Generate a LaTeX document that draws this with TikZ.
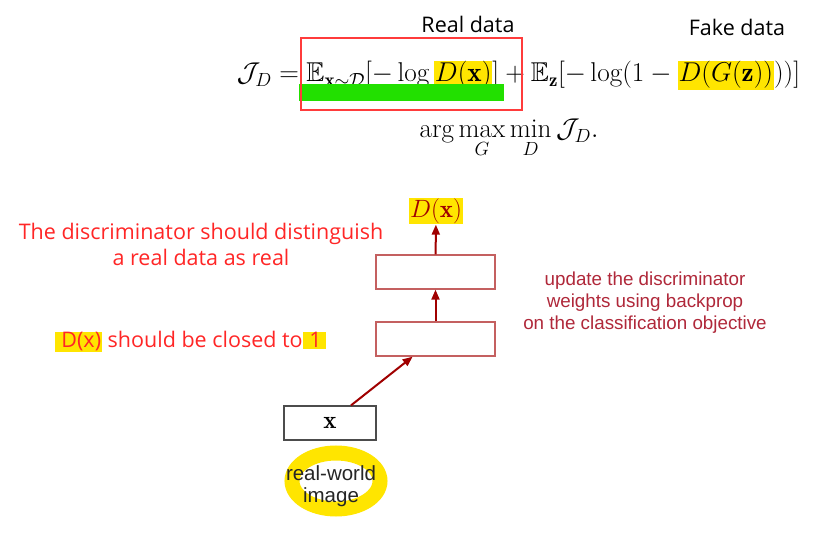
\RequirePackage{fix-cm}
\documentclass[tikz,border=0pt]{standalone}
\usepackage{amsmath, amssymb}
\usepackage{fontspec}
\newfontfamily\notefont{Open Sans}
\newfontfamily\slidefont{Liberation Sans}
\definecolor{hlYellow}{HTML}{FFE500}
\definecolor{hlGreen}{HTML}{22E000}
\definecolor{boxRed}{HTML}{FF3B3B}
\definecolor{noteRed}{HTML}{FF2626}
\definecolor{arrowRed}{HTML}{A00000}
\definecolor{layerRed}{HTML}{C46060}
\definecolor{slideRed}{HTML}{B0283A}
\usetikzlibrary{arrows.meta, calc}
\newcommand{\hl}[1]{{\setlength{\fboxsep}{1pt}\colorbox{hlYellow}{#1}}}

\begin{document}
\begin{tikzpicture}[x=1pt, y=-1pt,
    eqn/.style={inner sep=0pt, font=\fontsize{27.2}{33}\selectfont},
    tag/.style={inner sep=0pt, font=\notefont\fontsize{21.5}{26}\selectfont},
    note/.style={tag, text=noteRed, align=center},
    slide/.style={inner sep=0pt, text=slideRed, align=center,
      font=\slidefont\fontsize{18.8}{22}\selectfont},
    layer/.style={draw=layerRed, line width=1.3pt, minimum width=119pt, minimum height=34pt},
    inbox/.style={draw=black!70, line width=1.2pt, minimum width=92pt, minimum height=34pt,
      font=\fontsize{25}{30}\selectfont},
    flow/.style={arrowRed, line width=2pt, -{Triangle[length=10pt, width=8pt]}},
    ring/.style={hlYellow, line width=15pt}]
  \useasboundingbox[fill=white] (0,0) rectangle (822,537);

  % Objective of the discriminator
  \node[eqn, anchor=base] (loss) at (518.5,82)
    {$\mathcal{J}_D = \mathbb{E}_{\mathbf{x}\sim\mathcal{D}}[-\log \hl{$D(\mathbf{x})$}]
      + \mathbb{E}_{\mathbf{z}}[-\log(1-\hl{$D(G(\mathbf{z}))$}))]$};
  \node[eqn, anchor=base] (game) at (509,138)
    {$\displaystyle \arg\max_G \min_D \mathcal{J}_D.$};
  \fill[hlGreen] (299,84) rectangle (504,101);
  \draw[boxRed, line width=1.3pt] (301,38) rectangle (522,110);
  \node[tag] (reallbl) at (468,24) {Real data};
  \node[tag] (fakelbl) at (737,27) {Fake data};

  % Discriminator network
  \node[inbox] (xin) at (330,423) {$\mathbf{x}$};
  \node[layer] (hid1) at (435.5,339) {};
  \node[layer] (hid2) at (435.5,272) {};
  \node[inner sep=1pt, fill=hlYellow, text=arrowRed, font=\fontsize{25}{30}\selectfont]
    (dout) at (436,211) {$D(\mathbf{x})$};
  \draw[flow] ($(xin.north)!0.45!(xin.north east)$) -- ($(hid1.south)!0.38!(hid1.south west)$);
  \draw[flow] (hid1) -- (hid2);
  \draw[flow] (hid2) -- (dout);

  % Input label
  \draw[ring] (336,481) ellipse [x radius=44pt, y radius=28pt];
  \node[inner sep=0pt, align=center, text=black!85, font=\slidefont\fontsize{20.5}{22}\selectfont]
    (imgnote) at (331,486) {real-world\\image};

  % Annotations
  \node[note] (distnote) at (201,244) {The discriminator should distinguish\\a real data as real};
  \node[note] (closenote) at (190.5,342) {\hl{ D(x)} should be closed to\hl{ 1\,}};
  \node[slide] (updnote) at (645,303)
    {update the discriminator\\weights using backprop\\on the classification objective};
\end{tikzpicture}
\end{document}
